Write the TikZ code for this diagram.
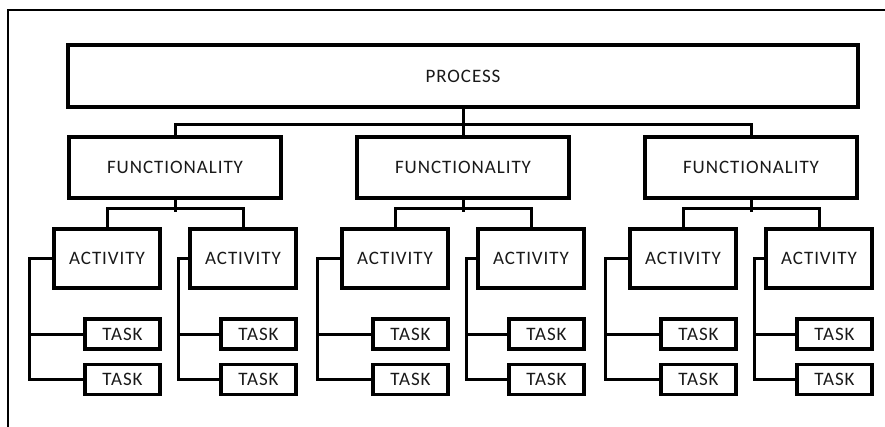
\documentclass[tikz,border=0pt]{standalone}
\usepackage{fontspec}
\setmainfont{Carlito}[LetterSpace=5]
\begin{document}
\begin{tikzpicture}[x=1pt,y=-1pt,
  box/.style={draw=black, line width=3.2pt, fill=white, inner sep=0pt,
    text=black!90, font=\fontsize{19}{22}\selectfont},
  pbox/.style={box, minimum width=790pt, minimum height=62pt},
  fbox/.style={box, minimum width=212pt, minimum height=61pt},
  abox/.style={box, minimum width=106pt, minimum height=59pt},
  tbox/.style={box, minimum width=75pt, minimum height=30pt},
  link/.style={draw=black, line width=3pt},
  frame/.style={draw=black, line width=2pt}]
\useasboundingbox (0,0) rectangle (885,427);

% outer frame edges
\draw[frame] (8,427) -- (8,10) -- (885,10);

% top level
\node[pbox] (P) at (463,76) {PROCESS};

% three functionality branches
\foreach \c [count=\i] in {175,463,751} {
  \node[fbox] (F\i) at (\c,167.5) {FUNCTIONALITY};
  \foreach \d/\off/\s in {-68/23/a, 68/10/b} {
    \node[abox] (A\i-\s) at (\c+\d,258.5) {ACTIVITY};
    \node[tbox] (T\i-\s-1) at (\c+\d+15.5,334) {TASK};
    \node[tbox] (T\i-\s-2) at (\c+\d+15.5,379.5) {TASK};
    \draw[link] (A\i-\s.west) -- ++(-\off,0) coordinate (K\i-\s) |- (T\i-\s-2.west);
    \draw[link] (T\i-\s-1.west) -- (K\i-\s |- T\i-\s-1.west);
  }
  \draw[link] (A\i-a.north) -- ++(0,-19) -| (A\i-b.north);
  \draw[link] (F\i.south) -- ++(0,12);
}

% bus from the process down to the functionalities
\draw[link] (F1.north) -- ++(0,-11) -| (F3.north);
\draw[link] (F2.north) -- ++(0,-11);
\draw[link] (P.south) -- ++(0,19);
\end{tikzpicture}
\end{document}
